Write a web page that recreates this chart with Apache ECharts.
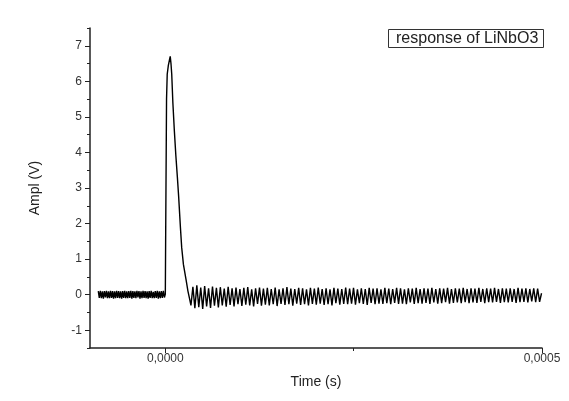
<!DOCTYPE html>
<html>
<head>
<meta charset="utf-8">
<script src="https://cdn.jsdelivr.net/npm/echarts@6/dist/echarts.min.js"></script>
<style>
html,body{margin:0;padding:0;background:#fff;}
#c{width:569px;height:401px;}
</style>
</head>
<body>
<div id="c"></div>
<script>
// Sampled signal: baseline before trigger (uniform sampling)
var baseStart = -0.0000890;
var baseStep = 0.00000135;
var baseValues = [
0.10,-0.09,0.11,-0.10,0.09,-0.11,0.10,-0.08,0.11,-0.10,0.09,-0.10,0.11,-0.09,0.10,-0.11,0.09,-0.10,0.11,-0.09,0.10,-0.10,
0.09,-0.11,0.10,-0.09,0.11,-0.10,0.09,-0.10,0.10,-0.09,0.11,-0.11,0.10,-0.09,0.09,-0.10,0.11,-0.08,0.10,-0.11,0.09,-0.10,
0.11,-0.09,0.10,-0.10,0.09,-0.11,0.10,-0.09,0.11,-0.10,0.08,-0.10,0.10,-0.09,0.11,-0.11,0.09,-0.10,0.10,-0.09,0.11,-0.08];

// Pulse (time, value)
var pulseTimes = [0,0.0000004,0.0000010,0.0000016,0.0000025,0.0000040,0.0000055,0.0000065,0.0000075,0.0000085,0.0000100,0.0000120,0.0000140,0.0000160,0.0000177,0.0000200,0.0000217,0.0000240,0.0000275,0.0000300,0.0000320];
var pulseValues = [0.02,1.5,3.5,5.5,6.2,6.45,6.6,6.7,6.5,6.2,5.4,4.6,3.9,3.3,2.75,1.9,1.33,0.85,0.42,0.1,-0.1];

// Ringing after the pulse (uniform sampling)
var ringStart = 0.0000340;
var ringStep = 0.0000026;
var ringValues = [
-0.30,0.22,-0.38,0.26,-0.35,0.20,-0.40,0.24,-0.33,0.18,-0.37,0.23,-0.31,0.19,-0.36,0.21,-0.30,0.17,-0.34,0.22,
-0.29,0.18,-0.33,0.20,-0.27,0.16,-0.32,0.19,-0.28,0.21,-0.30,0.15,-0.33,0.18,-0.26,0.20,-0.31,0.17,-0.28,0.19,
-0.30,0.16,-0.27,0.20,-0.32,0.15,-0.26,0.18,-0.29,0.21,-0.27,0.17,-0.31,0.16,-0.25,0.19,-0.29,0.18,-0.27,0.15,
-0.30,0.19,-0.26,0.17,-0.28,0.20,-0.25,0.16,-0.29,0.18,-0.27,0.15,-0.30,0.19,-0.24,0.17,-0.28,0.16,-0.26,0.20,
-0.27,0.17,-0.25,0.19,-0.28,0.15,-0.24,0.18,-0.26,0.16,-0.29,0.19,-0.23,0.17,-0.27,0.18,-0.25,0.15,-0.26,0.19,
-0.24,0.17,-0.27,0.16,-0.23,0.19,-0.26,0.18,-0.25,0.15,-0.27,0.18,-0.22,0.17,-0.26,0.19,-0.24,0.16,-0.25,0.18,
-0.23,0.17,-0.26,0.19,-0.22,0.16,-0.25,0.18,-0.24,0.17,-0.21,0.19,-0.25,0.16,-0.23,0.18,-0.22,0.17,-0.24,0.19,
-0.21,0.16,-0.24,0.18,-0.22,0.17,-0.23,0.19,-0.20,0.16,-0.24,0.18,-0.21,0.17,-0.22,0.19,-0.20,0.16,-0.23,0.18,
-0.21,0.17,-0.22,0.18,-0.20,0.16,-0.23,0.19,-0.21,0.17,-0.20,0.18,-0.22,0.16,-0.19,0.18,-0.21,0.17,-0.20,0.04];

var seriesName = 'response of LiNbO3';
var xMajorTicks = [0, 0.0005];
var xMajorLabels = ['0,0000', '0,0005'];
var xMinorTicks = [0.00025];
var yMajorTicks = [-1, 0, 1, 2, 3, 4, 5, 6, 7];
var yMinorTicks = [-1.5, -0.5, 0.5, 1.5, 2.5, 3.5, 4.5, 5.5, 6.5, 7.5];

var data = [];
baseValues.forEach(function (v, i) { data.push([baseStart + i * baseStep, v]); });
pulseTimes.forEach(function (t, i) { data.push([t, pulseValues[i]]); });
ringValues.forEach(function (v, i) { data.push([ringStart + i * ringStep, v]); });

var chart = echarts.init(document.getElementById('c'), null, {renderer: 'canvas'});
var font = 'Liberation Sans, Arial, sans-serif';
var axisColor = '#222';
var xMin = -0.0001, xMax = 0.0005, yMin = -1.5, yMax = 7.5;

chart.setOption({
  backgroundColor: '#fff',
  animation: false,
  title: {
    text: seriesName,
    left: 388, top: 29,
    padding: [2, 5, 1, 8],
    borderColor: '#333', borderWidth: 1,
    textStyle: {fontFamily: font, fontSize: 16, fontWeight: 'normal', color: '#222'}
  },
  grid: {left: 90, right: 27, top: 28, bottom: 53},
  xAxis: [{
    type: 'value', min: xMin, max: xMax,
    name: 'Time (s)', nameLocation: 'middle', nameGap: 27,
    nameTextStyle: {fontFamily: font, fontSize: 14, color: '#222'},
    axisLine: {show: true, onZero: false, lineStyle: {color: axisColor, width: 1.5}},
    axisTick: {show: true, inside: false, length: 5, customValues: xMajorTicks, lineStyle: {color: axisColor}},
    splitLine: {show: false},
    axisLabel: {
      fontFamily: font, fontSize: 12, color: '#333', margin: 5,
      customValues: xMajorTicks,
      formatter: function (v) {
        for (var i = 0; i < xMajorTicks.length; i++) {
          if (Math.abs(v - xMajorTicks[i]) < 1e-12) return xMajorLabels[i];
        }
        return '';
      }
    }
  }, {
    type: 'value', min: xMin, max: xMax, position: 'bottom',
    axisLine: {show: false, onZero: false},
    axisTick: {show: true, inside: false, length: 3, customValues: xMinorTicks, lineStyle: {color: axisColor}},
    axisLabel: {show: false},
    splitLine: {show: false}
  }],
  yAxis: [{
    type: 'value', min: yMin, max: yMax,
    name: 'Ampl (V)', nameLocation: 'middle', nameGap: 48, nameRotate: 90,
    nameTextStyle: {fontFamily: font, fontSize: 14, color: '#222'},
    axisLine: {show: true, onZero: false, lineStyle: {color: axisColor, width: 1.5}},
    axisTick: {show: true, inside: false, length: 5, customValues: yMajorTicks, lineStyle: {color: axisColor}},
    splitLine: {show: false},
    axisLabel: {
      fontFamily: font, fontSize: 12, color: '#333', margin: 8,
      customValues: yMajorTicks,
      formatter: function (v) { return String(Math.round(v)); }
    }
  }, {
    type: 'value', min: yMin, max: yMax, position: 'left',
    axisLine: {show: false, onZero: false},
    axisTick: {show: true, inside: false, length: 3, customValues: yMinorTicks, lineStyle: {color: axisColor}},
    axisLabel: {show: false},
    splitLine: {show: false}
  }],
  series: [{
    name: seriesName,
    type: 'line',
    xAxisIndex: 0, yAxisIndex: 0,
    data: data,
    showSymbol: false,
    symbol: 'none',
    lineStyle: {color: '#000', width: 1.4},
    clip: true
  }]
});
</script>
</body>
</html>
